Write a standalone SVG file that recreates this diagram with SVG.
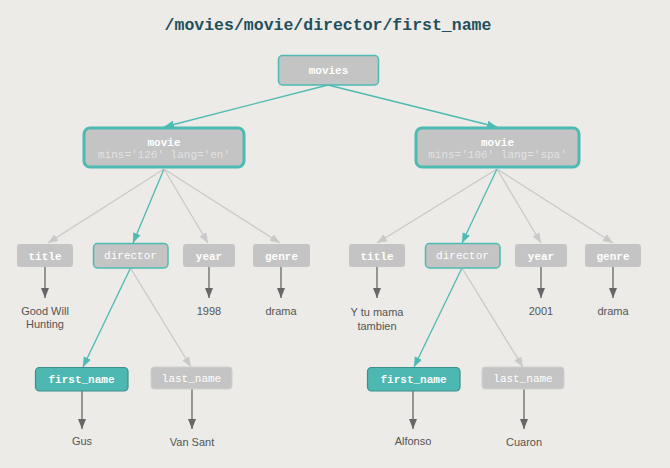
<svg xmlns="http://www.w3.org/2000/svg" width="670" height="468" viewBox="0 0 670 468">
<defs>
<style>
.bg{fill:#ecebe7}
.title{font-family:"Liberation Mono","Courier New",monospace;font-size:16.5px;font-weight:bold;fill:#1f4f5b;text-anchor:middle}
.box{fill:#c4c4c4}
.plain{stroke:#cfcfcf;stroke-width:1}
.hl{stroke:#4dbab3;stroke-width:1.5}
.hl3{stroke:#4dbab3;stroke-width:3}
.sel{fill:#4cb8b1;stroke:#3c8f8b;stroke-width:1.2}
.lbl{font-family:"Liberation Mono","Courier New",monospace;font-size:11px;fill:#ffffff;text-anchor:middle}
.b{font-weight:bold}
.attr{font-family:"Liberation Mono","Courier New",monospace;font-size:11px;fill:#e2e2e2;text-anchor:middle}
.val{font-family:"Liberation Sans",Arial,sans-serif;font-size:11px;fill:#555555;text-anchor:middle}
.et{stroke:#4dbab3;stroke-width:1.3;fill:none}
.eg{stroke:#c9c9c9;stroke-width:1.3;fill:none}
.ev{stroke:#666666;stroke-width:1.3;fill:none}
</style>
<marker id="at" markerUnits="userSpaceOnUse" markerWidth="10" markerHeight="10" viewBox="0 0 10 10" refX="10" refY="5" orient="auto"><path d="M0,1 L10,5 L0,9 Z" fill="#4dbab3"/></marker>
<marker id="ag" markerUnits="userSpaceOnUse" markerWidth="10" markerHeight="10" viewBox="0 0 10 10" refX="10" refY="5" orient="auto"><path d="M0,1 L10,5 L0,9 Z" fill="#c9c9c9"/></marker>
<marker id="av" markerUnits="userSpaceOnUse" markerWidth="10" markerHeight="10" viewBox="0 0 10 10" refX="10" refY="5" orient="auto"><path d="M0,1 L10,5 L0,9 Z" fill="#666666"/></marker>
</defs>
<rect class="bg" x="0" y="0" width="670" height="468"/>
<text class="title" x="328" y="30">/movies/movie/director/first_name</text>

<g id="connectors">
<line class="et" x1="328" y1="85" x2="164" y2="127" marker-end="url(#at)"/>
<line class="et" x1="328" y1="85" x2="497" y2="127" marker-end="url(#at)"/>
<line class="eg" x1="164" y1="169" x2="48" y2="243" marker-end="url(#ag)"/>
<line class="et" x1="164" y1="169" x2="133" y2="243" marker-end="url(#at)"/>
<line class="eg" x1="164" y1="169" x2="208" y2="243" marker-end="url(#ag)"/>
<line class="eg" x1="164" y1="169" x2="280" y2="243" marker-end="url(#ag)"/>
<line class="eg" x1="497" y1="169" x2="377" y2="243" marker-end="url(#ag)"/>
<line class="et" x1="497" y1="169" x2="462" y2="243" marker-end="url(#at)"/>
<line class="eg" x1="497" y1="169" x2="541" y2="243" marker-end="url(#ag)"/>
<line class="eg" x1="497" y1="169" x2="613" y2="243" marker-end="url(#ag)"/>
<line class="et" x1="130.5" y1="268" x2="83" y2="367" marker-end="url(#at)"/>
<line class="eg" x1="130.5" y1="268" x2="191" y2="367" marker-end="url(#ag)"/>
<line class="et" x1="462" y1="268" x2="414" y2="367" marker-end="url(#at)"/>
<line class="eg" x1="462" y1="268" x2="523" y2="367" marker-end="url(#ag)"/>
<line class="ev" x1="45" y1="267" x2="45" y2="298" marker-end="url(#av)"/>
<line class="ev" x1="209" y1="267" x2="209" y2="298" marker-end="url(#av)"/>
<line class="ev" x1="281" y1="267" x2="281" y2="298" marker-end="url(#av)"/>
<line class="ev" x1="377" y1="267" x2="377" y2="298" marker-end="url(#av)"/>
<line class="ev" x1="541" y1="267" x2="541" y2="298" marker-end="url(#av)"/>
<line class="ev" x1="613" y1="267" x2="613" y2="298" marker-end="url(#av)"/>
<line class="ev" x1="82" y1="391" x2="82" y2="429" marker-end="url(#av)"/>
<line class="ev" x1="192" y1="389" x2="192" y2="429" marker-end="url(#av)"/>
<line class="ev" x1="413" y1="391" x2="413" y2="429" marker-end="url(#av)"/>
<line class="ev" x1="524" y1="389" x2="524" y2="429" marker-end="url(#av)"/>
</g>

<g id="movies"><rect class="box hl" x="278.5" y="55.5" width="100" height="29.5" rx="4"/><text class="lbl b" x="328.5" y="74">movies</text></g>

<g id="movie1"><rect class="box hl3" x="84" y="128" width="160" height="39" rx="6"/><text class="lbl b" x="164" y="146">movie</text><text class="attr" x="164" y="158">mins='126' lang='en'</text></g>
<g id="movie2"><rect class="box hl3" x="416" y="128" width="163" height="39" rx="6"/><text class="lbl b" x="497.5" y="146">movie</text><text class="attr" x="497.5" y="158">mins='106' lang='spa'</text></g>

<g id="title1"><rect class="box" x="17" y="244" width="56" height="23" rx="3"/><text class="lbl b" x="45" y="260">title</text></g>
<g id="director1"><rect class="box hl" x="93.5" y="243.5" width="74.5" height="24.5" rx="4"/><text class="lbl" x="130.5" y="259">director</text></g>
<g id="year1"><rect class="box" x="183" y="244" width="52" height="23" rx="3"/><text class="lbl b" x="209" y="260">year</text></g>
<g id="genre1"><rect class="box" x="253" y="244" width="57" height="23" rx="3"/><text class="lbl b" x="281.5" y="260">genre</text></g>

<g id="title2"><rect class="box" x="349" y="244" width="56" height="23" rx="3"/><text class="lbl b" x="377" y="260">title</text></g>
<g id="director2"><rect class="box hl" x="425.5" y="243.5" width="74.5" height="24.5" rx="4"/><text class="lbl" x="462.5" y="259">director</text></g>
<g id="year2"><rect class="box" x="515" y="244" width="52" height="23" rx="3"/><text class="lbl b" x="541" y="260">year</text></g>
<g id="genre2"><rect class="box" x="585" y="244" width="56" height="23" rx="3"/><text class="lbl b" x="613" y="260">genre</text></g>

<g id="firstname1"><rect class="sel" x="35.5" y="367.5" width="92.5" height="23.5" rx="4"/><text class="lbl b" x="81.5" y="383">first_name</text></g>
<g id="lastname1"><rect class="box" x="151" y="367" width="81" height="22" rx="3" style="stroke:#d0d0d0;stroke-width:1"/><text class="lbl" x="191.5" y="382">last_name</text></g>
<g id="firstname2"><rect class="sel" x="367.5" y="367.5" width="92.5" height="23.5" rx="4"/><text class="lbl b" x="413.5" y="383">first_name</text></g>
<g id="lastname2"><rect class="box" x="482" y="367" width="82" height="22" rx="3" style="stroke:#d0d0d0;stroke-width:1"/><text class="lbl" x="523" y="382">last_name</text></g>

<g id="values">
<text class="val" x="45" y="315">Good Will</text><text class="val" x="45" y="328">Hunting</text>
<text class="val" x="209" y="315">1998</text>
<text class="val" x="281" y="315">drama</text>
<text class="val" x="377" y="316">Y tu mama</text><text class="val" x="377" y="330">tambien</text>
<text class="val" x="541" y="315">2001</text>
<text class="val" x="613" y="315">drama</text>
<text class="val" x="82" y="445">Gus</text>
<text class="val" x="192" y="446">Van Sant</text>
<text class="val" x="413" y="445">Alfonso</text>
<text class="val" x="524" y="446">Cuaron</text>
</g>
</svg>
